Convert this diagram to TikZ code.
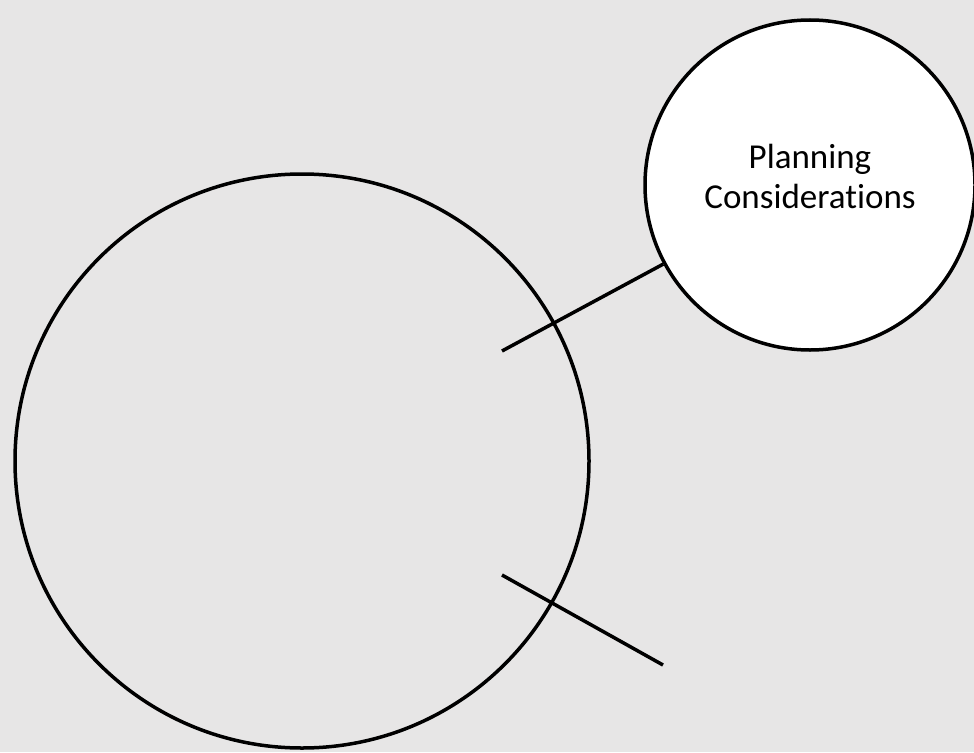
\documentclass[tikz,border=0pt]{standalone}
\usepackage{fontspec}
\setmainfont{Carlito}[Ligatures=NoCommon]
\definecolor{bg}{HTML}{E7E6E6}
\begin{document}
\begin{tikzpicture}[x=1pt,y=-1pt,
  ring/.style={circle,draw=black,line width=3.5pt,inner sep=0pt},
  link/.style={draw=black,line width=3.5pt}]
\fill[bg] (0,0) rectangle (974,752);
\useasboundingbox (0,0) rectangle (974,752);
\node[ring,minimum size=574pt] (big) at (302,461) {};
\coordinate (s1) at (502,351);
\coordinate (s2) at (502,575);
\coordinate (e2) at (663,665);
\node[ring,fill=white,minimum size=330pt] (small) at (810,185) {};
\draw[link] (s2) -- (e2);
\draw[link] (s1) -- (small);
\node[align=center,font=\fontsize{35}{40}\selectfont] (txt) at (810,176) {Planning\\Considerations};
\end{tikzpicture}
\end{document}
